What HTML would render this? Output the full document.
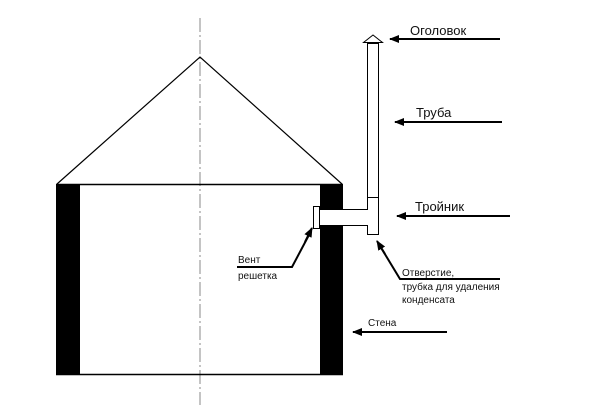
<!DOCTYPE html>
<html><head><meta charset="utf-8"><style>
html,body{margin:0;padding:0;background:#fff;}
svg{display:block;}
text{font-family:"Liberation Sans","DejaVu Sans",sans-serif;fill:#111;}
</style></head><body>
<svg width="600" height="420" viewBox="0 0 600 420" xmlns="http://www.w3.org/2000/svg">
<defs>
<marker id="ah" markerWidth="10" markerHeight="8" refX="9" refY="4" orient="auto" markerUnits="userSpaceOnUse">
<path d="M0,0 L10,4 L0,8 z" fill="#000"/>
</marker>
</defs>
<!-- center line -->
<line x1="200" y1="18" x2="200" y2="405" stroke="#888" stroke-width="1" stroke-dasharray="14,3,2,3"/>
<!-- roof -->
<polyline points="57,184 200,57 342,184" fill="none" stroke="#000" stroke-width="1.2"/>
<!-- walls -->
<rect x="56" y="184" width="24" height="191" fill="#000"/>
<rect x="320" y="184" width="23" height="191" fill="#000"/>
<line x1="56" y1="184.5" x2="343" y2="184.5" stroke="#000" stroke-width="1.5"/>
<line x1="56" y1="374.5" x2="343" y2="374.5" stroke="#000" stroke-width="1.5"/>
<!-- opening through wall -->
<rect x="318" y="210" width="27" height="15" fill="#fff"/>
<line x1="320" y1="209.5" x2="367" y2="209.5" stroke="#000" stroke-width="1"/>
<line x1="320" y1="225.5" x2="367" y2="225.5" stroke="#000" stroke-width="1"/>
<!-- grate -->
<rect x="313.5" y="206.5" width="6" height="22" fill="#fff" stroke="#000" stroke-width="1"/>
<!-- chimney -->
<rect x="367.5" y="43.5" width="11" height="154" fill="#fff" stroke="#000" stroke-width="1"/>
<rect x="367.5" y="197.5" width="11" height="37" fill="#fff" stroke="#000" stroke-width="1"/>
<line x1="367.5" y1="210" x2="367.5" y2="225" stroke="#fff" stroke-width="1.2"/>
<polygon points="363.5,42.5 373,35 382.5,42.5" fill="#fff" stroke="#000" stroke-width="1"/>
<!-- labels & arrows -->
<text x="410" y="35" font-size="13">Оголовок</text>
<line x1="500" y1="39" x2="390" y2="39" stroke="#000" stroke-width="2" marker-end="url(#ah)"/>
<text x="416" y="117" font-size="13">Труба</text>
<line x1="502" y1="122" x2="395" y2="122" stroke="#000" stroke-width="2" marker-end="url(#ah)"/>
<text x="415" y="211" font-size="13">Тройник</text>
<line x1="510" y1="216" x2="397" y2="216" stroke="#000" stroke-width="2" marker-end="url(#ah)"/>
<polyline points="500,279 400,279 380,246" fill="none" stroke="#000" stroke-width="2"/>
<line x1="385" y1="254" x2="377" y2="241" stroke="#000" stroke-width="2" marker-end="url(#ah)"/>
<text x="402" y="276" font-size="10">Отверстие,</text>
<text x="402" y="290" font-size="10">трубка для удаления</text>
<text x="402" y="303" font-size="10">конденсата</text>
<polyline points="237,267 292,267 310,233" fill="none" stroke="#000" stroke-width="2"/>
<line x1="305" y1="242" x2="312" y2="228" stroke="#000" stroke-width="2" marker-end="url(#ah)"/>
<text x="238" y="263" font-size="10">Вент</text>
<text x="238" y="279" font-size="10">решетка</text>
<text x="368" y="326" font-size="10">Стена</text>
<line x1="447" y1="332" x2="353" y2="332" stroke="#000" stroke-width="2" marker-end="url(#ah)"/>
</svg>
</body></html>
